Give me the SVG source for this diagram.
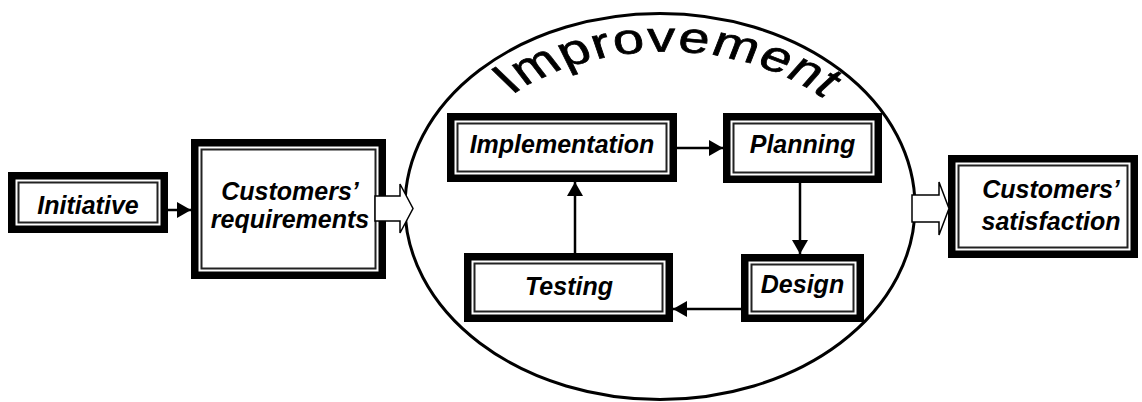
<svg xmlns="http://www.w3.org/2000/svg" width="1142" height="402" viewBox="0 0 1142 402">
<style>
.outer{fill:#fff;stroke:#000;stroke-width:7.5}
.inner{fill:none;stroke:#222;stroke-width:2}
.lbl{font-family:"Liberation Sans",Arial,sans-serif;font-weight:bold;font-style:italic;font-size:25px;fill:#000;text-anchor:middle}
.conn{stroke:#000;stroke-width:2.5;fill:none;marker-end:url(#ah)}
.block{fill:#fff;stroke:#000;stroke-width:1.5}
.arch{font-family:"Liberation Sans",Arial,sans-serif;font-size:43px;letter-spacing:1px;fill:#000;stroke:#000;stroke-width:0.7}
</style>
<defs>
<marker id="ah" markerUnits="userSpaceOnUse" markerWidth="14" markerHeight="16" refX="14" refY="8" orient="auto">
<path d="M0,0 L14,8 L0,16 Z" fill="#000"/>
</marker>
<path id="archPath" d="M 372.4 116.4 A 181.6 181.6 0 0 1 650.6 116.4"/>
</defs>
<rect width="1142" height="402" fill="#fff"/>
<g id="improvement">
<ellipse cx="660" cy="206.5" rx="255" ry="193" fill="#fff" stroke="#000" stroke-width="3"/>
<text class="arch" transform="scale(1.3,1)"><textPath href="#archPath" startOffset="30">Improvement</textPath></text>
</g>
<g id="initiative">
<rect class="outer" x="11.75" y="175.75" width="152.5" height="53.5"/>
<rect class="inner" x="18.5" y="182.5" width="139" height="40"/>
<text class="lbl" x="88" y="214">Initiative</text>
</g>
<g id="customers-requirements">
<rect class="outer" x="194.75" y="142.75" width="187.5" height="132.5"/>
<rect class="inner" x="201.5" y="149.5" width="174" height="119"/>
<text class="lbl" x="290" y="200">Customers’</text>
<text class="lbl" x="290" y="228">requirements</text>
</g>
<g id="implementation">
<rect class="outer" x="450.75" y="116.75" width="222.5" height="61.5"/>
<rect class="inner" x="457.5" y="123.5" width="209" height="48"/>
<text class="lbl" x="562" y="153">Implementation</text>
</g>
<g id="planning">
<rect class="outer" x="726.75" y="116.75" width="151.5" height="62.5"/>
<rect class="inner" x="733.5" y="123.5" width="138" height="49"/>
<text class="lbl" x="802.5" y="153">Planning</text>
</g>
<g id="design">
<rect class="outer" x="744.75" y="257.75" width="115.5" height="60.5"/>
<rect class="inner" x="751.5" y="264.5" width="102" height="47"/>
<text class="lbl" x="802.5" y="293">Design</text>
</g>
<g id="testing">
<rect class="outer" x="467.75" y="256.75" width="201.5" height="61.5"/>
<rect class="inner" x="474.5" y="263.5" width="188" height="48"/>
<text class="lbl" x="569" y="295">Testing</text>
</g>
<g id="customers-satisfaction">
<rect class="outer" x="951.75" y="158.75" width="182.5" height="95.5"/>
<rect class="inner" x="958.5" y="165.5" width="169" height="82"/>
<text class="lbl" x="1051" y="198">Customers’</text>
<text class="lbl" x="1051" y="230">satisfaction</text>
</g>
<g id="connectors">
<line class="conn" x1="168" y1="210" x2="191" y2="210"/>
<line class="conn" x1="677" y1="148" x2="723" y2="148"/>
<line class="conn" x1="800" y1="183" x2="800" y2="254"/>
<line class="conn" x1="741" y1="309" x2="673" y2="309"/>
<line class="conn" x1="575" y1="253" x2="575" y2="182"/>
<polygon class="block" points="375,196 400,196 400,184 413,208.5 400,233 400,221 375,221"/>
<polygon class="block" points="912,195 939,195 939,182 949,208.5 939,235 939,222 912,222"/>
</g>
</svg>
